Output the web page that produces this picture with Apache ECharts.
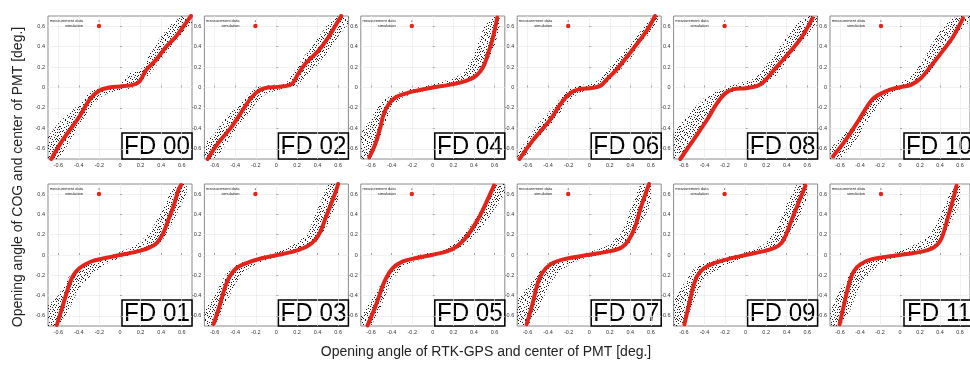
<!DOCTYPE html>
<html>
<head>
<meta charset="utf-8">
<script src="https://cdn.jsdelivr.net/npm/echarts@6/dist/echarts.min.js"></script>
<style>
  html, body { margin: 0; padding: 0; background: #fff; }
  #chart { width: 970px; height: 367px; }
</style>
</head>
<body>
<div id="chart"></div>
<script>
// tick labels shared by every panel (both axes)
const tickValues = [-0.6, -0.4, -0.2, 0, 0.2, 0.4, 0.6];

// panel order: top row then bottom row
const topRow = ['FD 00', 'FD 02', 'FD 04', 'FD 06', 'FD 08', 'FD 10'];
const bottomRow = ['FD 01', 'FD 03', 'FD 05', 'FD 07', 'FD 09', 'FD 11'];

// simulation curves [x, y]
const fd00Sim = [[-0.668,-0.7],[-0.555,-0.511],[-0.393,-0.283],[-0.296,-0.12],[-0.2,-0.03],[-0.1,0.0],[0,0.01],[0.125,0.026],[0.19,0.06],[0.254,0.17],[0.35,0.27],[0.45,0.4],[0.545,0.5],[0.64,0.63],[0.69,0.7]];
const fd02Sim = [[-0.668,-0.7],[-0.57,-0.55],[-0.44,-0.39],[-0.31,-0.195],[-0.244,-0.1],[-0.163,-0.026],[-0.08,0],[0.016,0.006],[0.147,0.033],[0.21,0.13],[0.277,0.228],[0.407,0.358],[0.505,0.49],[0.6,0.65],[0.63,0.7]];
const fd04Sim = [[-0.618,-0.684],[-0.56,-0.555],[-0.51,-0.39],[-0.477,-0.26],[-0.428,-0.163],[-0.363,-0.098],[-0.265,-0.059],[-0.167,-0.033],[0,0],[0.16,0.026],[0.324,0.065],[0.42,0.114],[0.487,0.195],[0.536,0.326],[0.585,0.49],[0.627,0.684]];
const fd06Sim = [[-0.677,-0.7],[-0.55,-0.52],[-0.387,-0.326],[-0.255,-0.13],[-0.173,-0.049],[-0.09,-0.016],[0.008,-0.007],[0.107,0.016],[0.173,0.081],[0.27,0.18],[0.436,0.39],[0.568,0.57],[0.64,0.7]];
const fd08Sim = [[-0.635,-0.7],[-0.505,-0.51],[-0.375,-0.316],[-0.277,-0.153],[-0.195,-0.055],[-0.114,-0.016],[0,-0.007],[0.114,0.016],[0.18,0.059],[0.277,0.173],[0.407,0.32],[0.537,0.48],[0.65,0.677]];
const fd10Sim = [[-0.67,-0.674],[-0.54,-0.51],[-0.41,-0.316],[-0.28,-0.12],[-0.18,-0.055],[-0.084,-0.016],[0,0.003],[0.11,0.026],[0.208,0.09],[0.305,0.205],[0.435,0.368],[0.532,0.5],[0.63,0.677]];
const fd01Sim = [[-0.614,-0.69],[-0.559,-0.51],[-0.51,-0.345],[-0.46,-0.212],[-0.395,-0.13],[-0.28,-0.064],[-0.15,-0.031],[0,0],[0.144,0.028],[0.275,0.067],[0.356,0.117],[0.42,0.216],[0.47,0.347],[0.52,0.48],[0.569,0.644],[0.595,0.69]];
const fd03Sim = [[-0.61,-0.68],[-0.55,-0.495],[-0.503,-0.33],[-0.454,-0.213],[-0.389,-0.13],[-0.29,-0.08],[-0.16,-0.037],[0,-0.003],[0.17,0.036],[0.3,0.086],[0.38,0.153],[0.43,0.236],[0.48,0.369],[0.53,0.5],[0.58,0.635],[0.6,0.7]];
const fd05Sim = [[-0.634,-0.694],[-0.553,-0.495],[-0.47,-0.262],[-0.389,-0.13],[-0.29,-0.063],[-0.159,-0.03],[0,0.003],[0.136,0.036],[0.234,0.086],[0.333,0.186],[0.43,0.336],[0.497,0.468],[0.595,0.684]];
const fd07Sim = [[-0.608,-0.683],[-0.552,-0.486],[-0.503,-0.288],[-0.454,-0.173],[-0.373,-0.09],[-0.242,-0.041],[0,0.002],[0.216,0.041],[0.314,0.074],[0.379,0.14],[0.444,0.272],[0.493,0.437],[0.542,0.585],[0.582,0.7]];
const fd09Sim = [[-0.595,-0.683],[-0.546,-0.47],[-0.497,-0.272],[-0.448,-0.173],[-0.366,-0.107],[-0.235,-0.058],[0,0],[0.19,0.041],[0.288,0.074],[0.353,0.124],[0.402,0.222],[0.451,0.354],[0.516,0.519],[0.582,0.683]];
const fd11Sim = [[-0.604,-0.683],[-0.555,-0.47],[-0.506,-0.272],[-0.458,-0.156],[-0.393,-0.09],[-0.28,-0.041],[0,0],[0.208,0.031],[0.338,0.074],[0.403,0.14],[0.442,0.239],[0.484,0.387],[0.532,0.552],[0.565,0.683]];

// measurement data cloud, read as [x, lower edge, upper edge]
const fd00Meas = [[-0.7,-0.7,-0.48],[-0.6,-0.7,-0.35],[-0.5,-0.55,-0.25],[-0.4,-0.38,-0.17],[-0.3,-0.22,-0.05],[-0.2,-0.1,0.0],[-0.1,-0.05,0.02],[0,-0.03,0.03],[0.1,-0.01,0.15],[0.2,0.04,0.17],[0.3,0.14,0.35],[0.4,0.28,0.5],[0.5,0.4,0.62],[0.6,0.52,0.7],[0.7,0.64,0.7]];
const fd02Meas = [[-0.7,-0.7,-0.55],[-0.6,-0.7,-0.45],[-0.5,-0.58,-0.3],[-0.4,-0.42,-0.2],[-0.3,-0.3,-0.1],[-0.2,-0.15,0.0],[-0.1,-0.06,0.02],[0,-0.03,0.03],[0.1,0.0,0.05],[0.2,0.02,0.2],[0.3,0.12,0.35],[0.4,0.22,0.48],[0.5,0.35,0.62],[0.6,0.5,0.7],[0.7,0.62,0.7]];
const fd04Meas = [[-0.7,-0.7,-0.45],[-0.6,-0.7,-0.3],[-0.5,-0.45,-0.13],[-0.4,-0.18,-0.08],[-0.3,-0.1,-0.04],[-0.2,-0.06,-0.01],[-0.1,-0.04,0.01],[0,-0.01,0.03],[0.1,0.01,0.06],[0.2,0.03,0.09],[0.3,0.05,0.14],[0.4,0.08,0.32],[0.5,0.2,0.6],[0.6,0.4,0.7],[0.65,0.6,0.7]];
const fd06Meas = [[-0.7,-0.7,-0.65],[-0.6,-0.65,-0.5],[-0.5,-0.5,-0.36],[-0.4,-0.4,-0.25],[-0.3,-0.27,-0.13],[-0.2,-0.14,-0.02],[-0.1,-0.05,0.02],[0,-0.03,0.04],[0.1,-0.01,0.07],[0.2,0.06,0.2],[0.3,0.17,0.3],[0.4,0.28,0.42],[0.5,0.42,0.55],[0.6,0.55,0.68],[0.67,0.66,0.7]];
const fd08Meas = [[-0.7,-0.7,-0.45],[-0.6,-0.62,-0.32],[-0.5,-0.5,-0.2],[-0.4,-0.35,-0.1],[-0.3,-0.2,-0.04],[-0.2,-0.08,0.0],[-0.1,-0.03,0.03],[0,-0.01,0.06],[0.1,0.0,0.09],[0.2,0.04,0.22],[0.3,0.12,0.35],[0.4,0.25,0.5],[0.5,0.38,0.63],[0.6,0.5,0.7],[0.7,0.62,0.7]];
const fd10Meas = [[-0.7,-0.7,-0.6],[-0.6,-0.7,-0.5],[-0.5,-0.6,-0.4],[-0.4,-0.45,-0.28],[-0.3,-0.3,-0.13],[-0.2,-0.15,-0.05],[-0.1,-0.06,0.0],[0,-0.02,0.04],[0.1,0.02,0.1],[0.2,0.06,0.22],[0.3,0.15,0.4],[0.4,0.3,0.55],[0.5,0.42,0.67],[0.6,0.55,0.7],[0.7,0.65,0.7]];
const fd01Meas = [[-0.7,-0.7,-0.5],[-0.6,-0.7,-0.4],[-0.5,-0.55,-0.22],[-0.4,-0.33,-0.14],[-0.3,-0.22,-0.08],[-0.2,-0.13,-0.04],[-0.1,-0.07,-0.01],[0,-0.03,0.03],[0.1,0.0,0.07],[0.2,0.03,0.13],[0.3,0.06,0.24],[0.4,0.12,0.42],[0.5,0.3,0.65],[0.6,0.5,0.7],[0.65,0.62,0.7]];
const fd03Meas = [[-0.7,-0.7,-0.55],[-0.6,-0.7,-0.4],[-0.5,-0.5,-0.2],[-0.4,-0.28,-0.1],[-0.3,-0.15,-0.06],[-0.2,-0.09,-0.03],[-0.1,-0.05,0.0],[0,-0.02,0.03],[0.1,0.01,0.07],[0.2,0.04,0.12],[0.3,0.07,0.2],[0.4,0.14,0.45],[0.5,0.3,0.7],[0.6,0.55,0.7]];
const fd05Meas = [[-0.7,-0.7,-0.6],[-0.6,-0.7,-0.45],[-0.5,-0.5,-0.28],[-0.4,-0.25,-0.1],[-0.3,-0.12,-0.05],[-0.2,-0.07,-0.02],[-0.1,-0.04,0.01],[0,-0.01,0.03],[0.1,0.01,0.06],[0.2,0.04,0.1],[0.3,0.09,0.2],[0.4,0.18,0.33],[0.5,0.3,0.5],[0.6,0.45,0.7],[0.7,0.6,0.7]];
const fd07Meas = [[-0.7,-0.7,-0.45],[-0.6,-0.7,-0.32],[-0.5,-0.55,-0.18],[-0.4,-0.32,-0.08],[-0.3,-0.17,-0.05],[-0.2,-0.1,-0.02],[-0.1,-0.05,0.0],[0,-0.02,0.03],[0.1,0.0,0.06],[0.2,0.02,0.1],[0.3,0.05,0.2],[0.4,0.12,0.45],[0.5,0.3,0.7],[0.6,0.5,0.7]];
const fd09Meas = [[-0.7,-0.7,-0.45],[-0.6,-0.7,-0.28],[-0.5,-0.45,-0.13],[-0.4,-0.22,-0.08],[-0.3,-0.16,-0.05],[-0.2,-0.11,-0.02],[-0.1,-0.06,0.0],[0,-0.02,0.03],[0.1,0.01,0.06],[0.2,0.04,0.12],[0.3,0.08,0.25],[0.4,0.15,0.5],[0.5,0.32,0.7],[0.6,0.55,0.7]];
const fd11Meas = [[-0.7,-0.7,-0.55],[-0.6,-0.7,-0.35],[-0.5,-0.55,-0.18],[-0.4,-0.3,-0.1],[-0.3,-0.18,-0.05],[-0.2,-0.1,-0.02],[-0.1,-0.05,0.01],[0,-0.01,0.04],[0.1,0.02,0.08],[0.2,0.05,0.13],[0.3,0.08,0.2],[0.4,0.13,0.38],[0.5,0.3,0.62],[0.6,0.5,0.7]];

const simByPanel = {
  'FD 00': fd00Sim, 'FD 02': fd02Sim, 'FD 04': fd04Sim, 'FD 06': fd06Sim, 'FD 08': fd08Sim, 'FD 10': fd10Sim,
  'FD 01': fd01Sim, 'FD 03': fd03Sim, 'FD 05': fd05Sim, 'FD 07': fd07Sim, 'FD 09': fd09Sim, 'FD 11': fd11Sim
};
const measByPanel = {
  'FD 00': fd00Meas, 'FD 02': fd02Meas, 'FD 04': fd04Meas, 'FD 06': fd06Meas, 'FD 08': fd08Meas, 'FD 10': fd10Meas,
  'FD 01': fd01Meas, 'FD 03': fd03Meas, 'FD 05': fd05Meas, 'FD 07': fd07Meas, 'FD 09': fd09Meas, 'FD 11': fd11Meas
};

// stipple texture (fixed, irregular dot layout) so the cloud reads as scattered dots
const stipple = document.createElement('canvas');
stipple.width = 20;
stipple.height = 20;
(function () {
  const ctx = stipple.getContext('2d');
  ctx.fillStyle = 'rgba(0,0,0,0.9)';
  [[0,1],[5,0],[11,2],[16,1],[3,4],[8,5],[14,4],[19,6],[1,8],[6,9],[12,7],[17,9],[4,12],[9,11],[15,12],
   [0,14],[7,15],[13,14],[18,15],[2,17],[10,18],[16,18],[5,19],[12,19],[9,2],[18,3],[3,10],[14,10],
   [7,13],[11,16],[19,12],[1,19],[6,6],[15,7],[10,9],[17,16],[4,15],[13,1],
   [2,2],[7,3],[13,5],[18,0],[0,6],[10,6],[16,5],[4,7],[8,8],[19,9],[2,11],[12,11],[17,12],[6,12],
   [10,13],[15,15],[1,16],[8,17],[14,17],[19,18],[3,18],[17,19],[9,16],[11,4],[5,14],[13,9],[18,7],
   [0,11],[7,1],[15,19]]
    .forEach(p => ctx.fillRect(p[0], p[1], 1, 1));
})();

const RED = '#e3241b';
const FONT = '"Liberation Sans", Arial, sans-serif';
const colLeft = c => 48 + c * 156.4;
const PW = 144;

const grids = [], xAxes = [], yAxes = [], series = [], graphics = [];

[topRow, bottomRow].forEach((row, r) => {
  row.forEach((label, c) => {
    const gi = grids.length;
    const left = colLeft(c);
    const top = r === 0 ? 16 : 184;
    const h = r === 0 ? 143 : 142;
    grids.push({ left: left, top: top, width: PW, height: h, show: true, borderColor: '#8a8a8a', borderWidth: 1, backgroundColor: '#fff' });

    const axisCommon = {
      type: 'value', gridIndex: gi, min: -0.7, max: 0.7,
      axisLine: { show: false },
      axisTick: { show: true, inside: true, length: 2, customValues: tickValues, lineStyle: { color: '#777', width: 0.6 } },
      axisLabel: { customValues: tickValues, fontSize: 5.5, color: '#333', margin: 3, fontFamily: FONT,
        formatter: v => (Math.abs(v) < 1e-9 ? '0' : String(Math.round(v * 10) / 10)) },
      splitLine: { show: true, lineStyle: { color: '#ebebeb', width: 0.7 } }
    };
    xAxes.push(Object.assign({}, axisCommon));
    yAxes.push(Object.assign({}, axisCommon));

    const band = measByPanel[label];
    series.push({
      type: 'custom', name: 'measurement data', xAxisIndex: gi, yAxisIndex: gi,
      data: band, encode: { x: 0, y: [1, 2] }, silent: true, z: 2,
      renderItem: (params, api) => {
        if (params.dataIndex !== 0) return;
        const upper = band.map(d => api.coord([d[0], d[2]]));
        const lower = band.map(d => api.coord([d[0], d[1]])).reverse();
        return { type: 'polygon', shape: { points: upper.concat(lower) }, style: { fill: { image: stipple, repeat: 'repeat' }, stroke: null } };
      }
    });
    series.push({
      type: 'line', name: 'simulation', xAxisIndex: gi, yAxisIndex: gi,
      data: simByPanel[label], smooth: 0.35, showSymbol: false, silent: true, z: 3,
      lineStyle: { color: RED, width: 4, cap: 'round' }, itemStyle: { color: RED }
    });

    // legend (gnuplot style: text right-aligned, key to the right)
    graphics.push(
      { type: 'text', x: left + 35, y: top + 5, z: 100, style: { text: 'measurement data', font: '4px ' + FONT, fill: '#222', align: 'right', verticalAlign: 'middle' } },
      { type: 'text', x: left + 35, y: top + 10, z: 100, style: { text: 'simulation', font: '4px ' + FONT, fill: '#222', align: 'right', verticalAlign: 'middle' } },
      { type: 'circle', x: left + 51, y: top + 5, z: 100, shape: { r: 0.6 }, style: { fill: '#000' } },
      { type: 'circle', x: left + 51, y: top + 10, z: 100, shape: { r: 2.2 }, style: { fill: RED } }
    );
    // FD label box in the lower right corner
    graphics.push({
      type: 'group', x: left + PW - 70, y: top + h - 26, z: 100,
      children: [
        { type: 'rect', shape: { x: 0, y: 0, width: 70, height: 26 }, style: { fill: '#fff', stroke: '#000', lineWidth: 1.5 } },
        { type: 'text', x: 35, y: 14, scaleX: 0.93, style: { text: label, font: '26px ' + FONT, fill: '#000', align: 'center', verticalAlign: 'middle' } }
      ]
    });
  });
});

// axis titles
graphics.push(
  { type: 'text', x: 18, y: 177, rotation: Math.PI / 2, z: 100,
    style: { text: 'Opening angle of COG and center of PMT [deg.]', font: '14px ' + FONT, fill: '#222', align: 'center', verticalAlign: 'middle' } },
  { type: 'text', x: 486, y: 352, z: 100,
    style: { text: 'Opening angle of RTK-GPS and center of PMT [deg.]', font: '14px ' + FONT, fill: '#222', align: 'center', verticalAlign: 'middle' } }
);

const chart = echarts.init(document.getElementById('chart'), null, { renderer: 'canvas' });
chart.setOption({
  animation: false,
  backgroundColor: '#fff',
  grid: grids,
  xAxis: xAxes,
  yAxis: yAxes,
  series: series,
  graphic: { elements: graphics }
});
</script>
</body>
</html>
